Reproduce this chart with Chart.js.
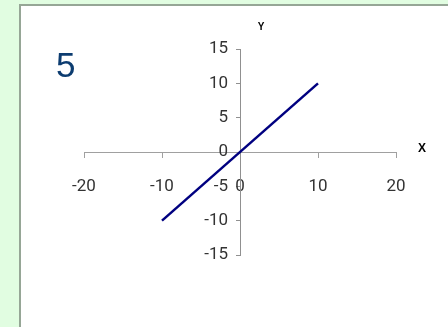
<!DOCTYPE html>
<html>
<head>
<meta charset="utf-8">
<script src="https://cdn.jsdelivr.net/npm/chart.js@4"></script>
<style>
  html, body { margin:0; padding:0; }
  body { width:448px; height:327px; background:#e1fde1; position:relative; overflow:hidden; }
  #panel { position:absolute; left:19px; top:4px; width:440px; height:321px; background:#fff;
           border-left:2px solid #96a696; border-top:2px solid #96a696; border-bottom:1px solid #e4e4e4; }
  #wrap { position:absolute; left:0; top:0; width:448px; height:327px; }
</style>
</head>
<body>
<div id="panel"></div>
<div id="wrap"><canvas id="c" width="448" height="327"></canvas></div>
<script>
const xValues = [-10, 10];
const yValues = [-10, 10];
const xRange = [-20, 20];
const yRange = [-15, 15];
const xStep = 10;
const yStep = 5;
const chartNumber = "5";
const xTitle = "X";
const yTitle = "Y";

const yLabelGap = 12;

const labelsPlugin = {
  id: 'labels',
  beforeDraw(chart) {
    const ys = chart.scales.y;
    const items = ys.getLabelItems();
    if (!items._shifted) {
      items.forEach(it => { it.options.translation[0] -= yLabelGap; });
      items._shifted = true;
    }
  },
  afterDraw(chart) {
    const ctx = chart.ctx;
    const xs = chart.scales.x, ys = chart.scales.y;
    ctx.save();
    ctx.fillStyle = '#0c3c70';
    ctx.font = '35px "Liberation Sans", Arial, sans-serif';
    ctx.textAlign = 'left';
    ctx.textBaseline = 'alphabetic';
    ctx.fillText(chartNumber, 56, 77);
    ctx.fillStyle = '#000';
    ctx.font = 'bold 10px "Liberation Sans", Arial, sans-serif';
    ctx.textAlign = 'center';
    ctx.textBaseline = 'middle';
    ctx.fillText(yTitle, xs.getPixelForValue(0) + 21, ys.top - 22);
    ctx.font = 'bold 12px "Liberation Sans", Arial, sans-serif';
    ctx.fillText(xTitle, xs.right + 26, ys.getPixelForValue(0) - 3);
    ctx.restore();
  }
};

new Chart(document.getElementById('c'), {
  type: 'scatter',
  data: {
    datasets: [{
      data: xValues.map((x, i) => ({x: x, y: yValues[i]})),
      showLine: true,
      borderColor: '#000080',
      borderWidth: 2.5,
      pointRadius: 0,
      fill: false
    }]
  },
  options: {
    responsive: false,
    animation: false,
    layout: { padding: { left: 84, right: 52, top: 49, bottom: 72 } },
    plugins: { legend: { display: false }, tooltip: { enabled: false } },
    scales: {
      x: {
        type: 'linear', min: xRange[0], max: xRange[1],
        position: { y: 0 },
        grid: { drawOnChartArea: false, drawTicks: true, tickLength: 5, color: '#a0a0a0' },
        border: { display: true, color: '#a0a0a0', width: 1 },
        ticks: { stepSize: xStep, padding: 20, color: '#333', font: { family: 'Roboto', size: 17 } }
      },
      y: {
        type: 'linear', min: yRange[0], max: yRange[1],
        position: { x: 0 },
        grid: { drawOnChartArea: false, drawTicks: true, tickLength: 4, color: '#909090' },
        border: { display: true, color: '#909090', width: 1 },
        ticks: { stepSize: yStep, padding: 8, color: '#333', font: { family: 'Roboto', size: 17 } }
      }
    }
  },
  plugins: [labelsPlugin]
});
</script>
</body>
</html>
